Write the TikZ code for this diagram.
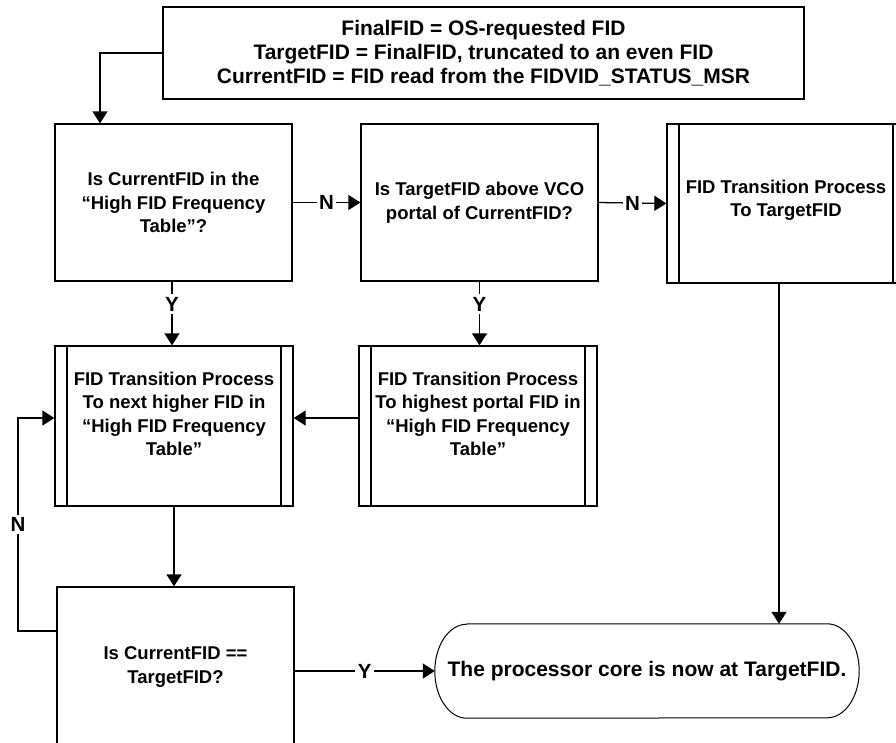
\documentclass[tikz,border=0pt]{standalone}
\usepackage{fontspec}
\setmainfont{Liberation Sans}
\usetikzlibrary{arrows.meta,calc}
\newcommand{\boxfnt}{\fontsize{18.5}{23.5}\selectfont\bfseries}
\newcommand{\bigfnt}{\fontsize{21}{24}\selectfont\bfseries}
\newcommand{\lblfnt}{\fontsize{20.5}{24}\selectfont\bfseries}
\begin{document}
\begin{tikzpicture}[x=1pt,y=-1pt,
  box/.style={draw,line width=1.3pt,minimum width=237pt,minimum height=157pt,inner sep=0pt,align=center,font=\boxfnt},
  proc/.style={box,minimum height=160pt,path picture={
     \draw[line width=1.3pt] ([xshift=12pt]path picture bounding box.north west) -- ([xshift=12pt]path picture bounding box.south west);
     \draw[line width=1.3pt] ([xshift=-12pt]path picture bounding box.north east) -- ([xshift=-12pt]path picture bounding box.south east);}},
  txt/.style={align=center,font=\boxfnt,inner sep=0pt},
  arr/.style={line width=1.3pt,-{Triangle[length=12pt,width=15pt]}},
  lbl/.style={fill=white,inner sep=2.5pt,font=\lblfnt}]
\path[use as bounding box] (0,0) rectangle (896,742);
\clip (0,0) rectangle (896,742);

\node[draw,line width=1.3pt,minimum width=641pt,minimum height=92pt,inner sep=0pt,align=center,font=\bigfnt] (init) at (483.5,53)
  {FinalFID = OS-requested FID\\TargetFID = FinalFID, truncated to an even FID\\CurrentFID = FID read from the FIDVID\_STATUS\_MSR};

\node[box] (q1) at (173.5,202.5) {Is CurrentFID in the\\“High FID Frequency\\Table”?};
\node[box] (q2) at (479.5,202.5) {Is TargetFID above VCO\\portal of CurrentFID?};
\node[proc,minimum width=238pt,minimum height=159pt] (p3) at (786,203.5) {};
\node[txt] (p3t) at ([yshift=3pt]p3.center) {FID Transition Process\\To TargetFID};

\node[proc,minimum width=238pt] (p4) at (174,426) {};
\node[txt] (p4t) at ([yshift=12pt]p4.center) {FID Transition Process\\To next higher FID in\\“High FID Frequency\\Table”};
\node[proc,minimum width=238pt] (p5) at (478,426) {};
\node[txt] (p5t) at ([yshift=12pt]p5.center) {FID Transition Process\\To highest portal FID in\\“High FID Frequency\\Table”};

\node[box,minimum height=160pt] (q6) at (175.5,667) {Is CurrentFID ==\\TargetFID?};

\node[minimum width=424pt,minimum height=94pt,inner sep=0pt,font=\bigfnt] (term) at (647,671) {The processor core is now at TargetFID.};
\draw[line width=1pt] ([xshift=32pt]term.north west) -- ([xshift=-32pt]term.north east)
   arc[start angle=90,end angle=-90,x radius=32pt,y radius=47pt]
   -- ([xshift=32pt]term.south west)
   arc[start angle=270,end angle=90,x radius=32pt,y radius=47pt] -- cycle;

\draw[arr] (init.west) -| ([xshift=-73.5pt]q1.north);
\draw[arr] (q1.east) -- node[lbl]{N} (q2.west);
\draw[arr] (q2.east) -- node[lbl]{N} (p3.west);
\draw[arr] ([xshift=-1.5pt]q1.south) -- node[lbl,pos=0.35]{Y} ([xshift=-1.5pt]q1.south |- p4.north);
\draw[arr] (q2.south) -- node[lbl,pos=0.35]{Y} (q2.south |- p5.north);
\draw[arr] ([yshift=8pt]p5.west) -- ([yshift=8pt]p4.east);
\draw[arr] (p4.south) -- (p4.south |- q6.north);
\coordinate (lp1) at (18,631);
\coordinate (lp2) at (18,418);
\draw[arr] (q6.west |- lp1) -- (lp1) -- node[lbl]{N} (lp2) -- (p4.west |- lp2);
\draw[arr] (q6.east |- term.west) -- node[lbl]{Y} (term.west);
\draw[arr] ([xshift=-7pt]p3.south) -- ([xshift=-7pt]p3.south |- term.north);
\end{tikzpicture}
\end{document}
